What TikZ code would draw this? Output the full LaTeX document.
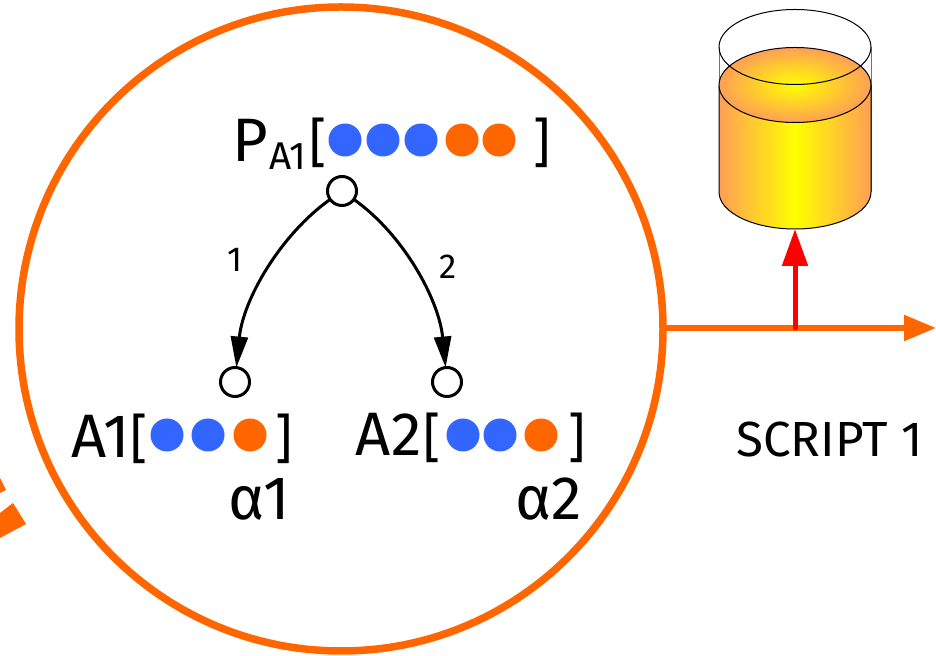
\documentclass[tikz,border=0pt]{standalone}
\usepackage{fontspec}
\setmainfont{Fira Sans}
\usetikzlibrary{arrows.meta}
\definecolor{lensorange}{HTML}{FF6600}
\definecolor{dotblue}{HTML}{3366FF}
\definecolor{liquidedge}{HTML}{FF9F55}
\definecolor{arrowred}{HTML}{FF0000}
\pgfdeclarehorizontalshading{liquidbody}{100bp}{color(0bp)=(liquidedge);color(25bp)=(liquidedge);color(50bp)=(yellow);color(75bp)=(liquidedge);color(100bp)=(liquidedge)}
\tikzset{
  x=0.75pt,y=0.75pt,
  px/.style={line width=#1*0.75pt},
  lens/.style={circle,draw=lensorange,px=7.5,minimum size=644*0.75pt,inner sep=0pt,outer sep=0pt},
  vertex/.style={circle,draw=black,fill=white,px=3,minimum size=29*0.75pt,inner sep=0pt,outer sep=0pt},
  bluedot/.style={circle,fill=dotblue,inner sep=0pt,minimum size=33*0.75pt},
  orangedot/.style={circle,fill=lensorange,inner sep=0pt,minimum size=33*0.75pt},
  bigtext/.style={font=\fontsize{46}{46}\selectfont,inner sep=0pt,text=black},
  brackettext/.style={font=\fontsize{40}{40}\selectfont,inner sep=0pt,text=black},
  subtext/.style={font=\fontsize{29}{29}\selectfont,inner sep=0pt,text=black},
  edgelabel/.style={font=\fontsize{26}{26}\selectfont,inner sep=0pt,text=black},
  scripttext/.style={font=\fontsize{37}{37}\selectfont,inner sep=0pt,text=black},
  edgearrow/.style={draw=black,px=3,-{Triangle[length=31*0.75pt,width=17*0.75pt]}},
  flow/.style={draw=lensorange,px=5.5,-{Triangle[length=32*0.75pt,width=25*0.75pt]}},
  store/.style={draw=arrowred,px=5,line cap=round,-{Triangle[length=37*0.75pt,width=25*0.75pt]}},
  glass/.style={draw=black,px=1},
}
\begin{document}
\begin{tikzpicture}
\useasboundingbox (0,0) rectangle (936,656);
% fragments at left edge
\fill[lensorange] (0,178) -- (6,166) -- (0,163) -- cycle;
\fill[lensorange] (0,143) -- (13,153) -- (26,132) -- (0,118) -- cycle;
% lens
\node[lens] (lens) at (341,327) {};
% cylinder
\coordinate (cylbottom) at (795,427);
\coordinate (junction) at (795,328);
\coordinate (flowend) at (936,328);
\draw[glass,draw=black!55] (719,609) -- (719,464);
\draw[glass,draw=black!55] (871,609) -- (871,464);
\path[shading=liquidbody]
  (719,571) -- (719,464) arc[start angle=180,end angle=360,x radius=76,y radius=37] -- (871,571) -- cycle;
\draw[glass] (719,571) -- (719,464) arc[start angle=180,end angle=360,x radius=76,y radius=37] -- (871,571);
\shade[inner color=yellow,outer color=liquidedge] (795,571) ellipse[x radius=76,y radius=37.5];
\draw[glass] (795,571) ellipse[x radius=76,y radius=37.5];
\draw[glass] (795,609) ellipse[x radius=76,y radius=37.5];
% flows
\draw[flow] (lens.east |- junction) -- (flowend);
\draw[store] (junction) -- (cylbottom);
% vertices
\node[vertex] (top) at (342,465) {};
\node[vertex] (left) at (235,274) {};
\node[vertex] (right) at (447,274) {};
\draw[edgearrow] (top) .. controls (280,421) and (243,356) .. (left);
\draw[edgearrow] (top) .. controls (404,421) and (439,356) .. (right);
\node[edgelabel] (l1) at (235,396) {1};
\node[edgelabel] (l2) at (448,389) {2};
% top label
\node[bigtext,anchor=base west] (P) at (232,494) {P};
\node[subtext,anchor=base west] (A1s) at (269,486) {A1};
\node[brackettext,anchor=base west] (lb) at (309,494.5) {[};
\node[brackettext,anchor=base east] (rb) at (551,494.5) {]};
\foreach \n/\x/\s in {a/345/bluedot,b/383/bluedot,c/421/bluedot,d/462/orangedot,e/499/orangedot}
  \node[\s] (top\n) at (\x,516) {};
% left label
\node[bigtext,anchor=base west] (A1) at (71,198) {A1};
\node[brackettext,anchor=base west] (A1l) at (130,198.5) {[};
\node[brackettext,anchor=base east] (A1r) at (293,198.5) {]};
\foreach \n/\x/\s in {a/167/bluedot,b/208/bluedot,c/250/orangedot}
  \node[\s] (ld\n) at (\x,221) {};
% right label
\node[bigtext,anchor=base west] (A2) at (355,200) {A2};
\node[brackettext,anchor=base west] (A2l) at (423,199.5) {[};
\node[brackettext,anchor=base east] (A2r) at (586,199.5) {]};
\foreach \n/\x/\s in {a/463/bluedot,b/500/bluedot,c/541/orangedot}
  \node[\s] (rd\n) at (\x,221) {};
\node[bigtext,anchor=base west] (alpha1) at (228,136) {α1};
\node[bigtext,anchor=base west] (alpha2) at (515,136) {α2};
\node[scripttext,anchor=base west] (script) at (736,199) {SCRIPT 1};
\end{tikzpicture}
\end{document}
